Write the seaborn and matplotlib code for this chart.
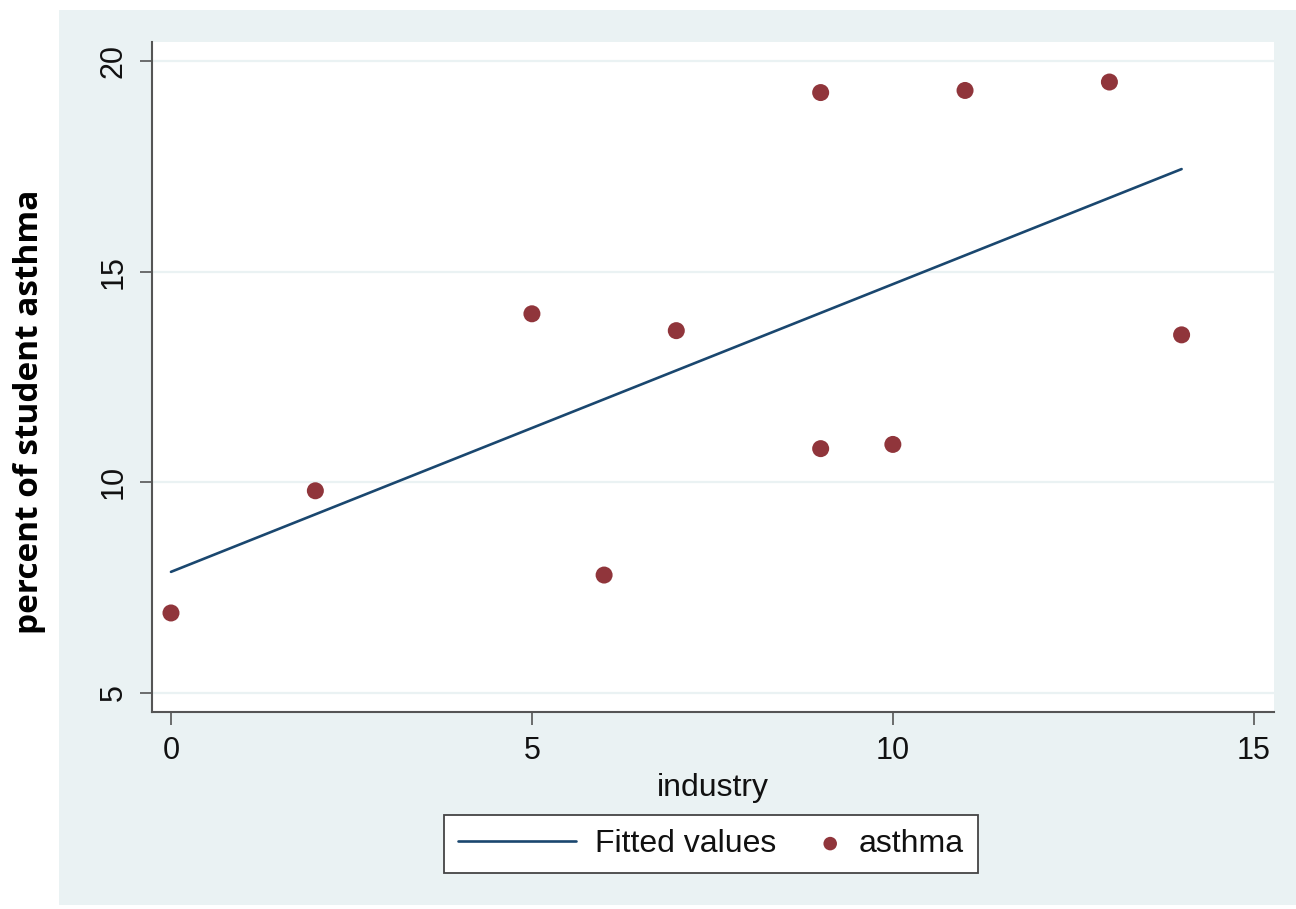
import numpy as np
import pandas as pd
import seaborn as sns
import matplotlib.pyplot as plt
from matplotlib.patches import Rectangle
from matplotlib.legend_handler import HandlerPathCollection

# data
industry = [0, 2, 5, 6, 7, 9, 9, 10, 11, 13, 14]
asthma = [6.9, 9.8, 14.0, 7.8, 13.6, 19.25, 10.8, 10.9, 19.3, 19.5, 13.5]
x_ticks = [0, 5, 10, 15]
y_ticks = [5, 10, 15, 20]

df = pd.DataFrame({"industry": industry, "asthma": asthma})

panel_bg = "#EAF2F3"
line_col = "#1A476F"
dot_col = "#90353B"
axis_col = "#555555"


class RightDot(HandlerPathCollection):
    # Stata puts the legend dot right next to its label
    def get_xdata(self, legend, xdescent, ydescent, width, height, fontsize):
        x = [width - xdescent - 0.3 * fontsize]
        return x, x


sns.set_theme(style="ticks")
plt.rcParams["font.family"] = ["Liberation Sans", "DejaVu Sans"]

fig = plt.figure(figsize=(12.96, 9.09), dpi=100)
fig.patch.set_facecolor("white")
fig.patches.append(Rectangle((59 / 1296, 4 / 909), 1 - 59 / 1296, (909 - 14) / 909,
                             transform=fig.transFigure, facecolor=panel_bg,
                             edgecolor="none", zorder=-5))

ax = fig.add_axes([152 / 1296, 1 - 712 / 909, (1274 - 152) / 1296, (712 - 42) / 909])
ax.set_facecolor("white")

# fitted line (OLS) then the points
sns.regplot(data=df, x="industry", y="asthma", scatter=False, ci=None, ax=ax,
            label="Fitted values", line_kws=dict(color=line_col, lw=1.9))
sns.scatterplot(data=df, x="industry", y="asthma", ax=ax, color=dot_col,
                s=150, edgecolor="none", label="asthma", zorder=3)

ax.set_xlim(-0.263, 15.28)
ax.set_ylim(4.55, 20.45)
ax.set_xticks(x_ticks)
ax.set_yticks(y_ticks)
ax.yaxis.grid(True, color=panel_bg, lw=1.6)
ax.xaxis.grid(False)
ax.set_axisbelow(True)

for side in ["top", "right"]:
    ax.spines[side].set_visible(False)
for side in ["left", "bottom"]:
    ax.spines[side].set_color(axis_col)
    ax.spines[side].set_linewidth(1.5)

ax.tick_params(axis="both", length=9, width=1.2, color=axis_col, labelsize=22,
               labelcolor="#111111", pad=8)
ax.tick_params(axis="y", labelrotation=90)
for lab in ax.get_yticklabels():
    lab.set_va("center")

ax.set_xlabel("industry", fontsize=23, color="#111111", labelpad=5)
ax.set_ylabel("")
fig.text(30 / 1296, 1 - 412 / 909, "percent of student asthma", rotation=90,
         ha="center", va="center", fontsize=24, fontweight="bold",
         family=["Open Sans", "DejaVu Sans"], color="black")

if ax.legend_:
    ax.legend_.remove()
h, l = ax.get_legend_handles_labels()
leg = fig.legend(h, l, loc="center", bbox_to_anchor=(711 / 1296, 1 - 844 / 909),
                 ncol=2, frameon=True, fancybox=False, framealpha=1,
                 edgecolor="#444444", fontsize=23, labelcolor="#111111",
                 handlelength=3.7, columnspacing=-1.72, handletextpad=0.6,
                 borderpad=0.45, handler_map={h[1]: RightDot(sizes=[95])})
leg.get_frame().set_linewidth(1.3)

fig.savefig("out.png", dpi=100, facecolor="white")
